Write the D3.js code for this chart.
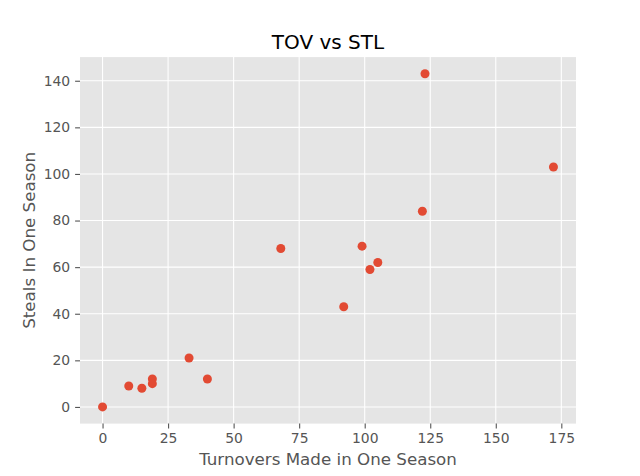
<!DOCTYPE html>
<html><head><meta charset="utf-8">
<script src="https://cdn.jsdelivr.net/npm/d3@7"></script>
<style>body{margin:0;background:#fff}svg{display:block;font-family:"DejaVu Sans",sans-serif}</style>
</head><body>
<svg id="c" width="640" height="476"></svg>
<script>
const turnovers = [0, 10, 15, 19, 19, 33, 40, 68, 92, 99, 102, 105, 122, 123, 172];
const steals    = [0, 9, 8, 12, 10, 21, 12, 68, 43, 69, 59, 62, 84, 143, 103];
const xTicks = [0, 25, 50, 75, 100, 125, 150, 175];
const yTicks = [0, 20, 40, 60, 80, 100, 120, 140];
const title = "TOV vs STL";
const xLabel = "Turnovers Made in One Season";
const yLabel = "Steals In One Season";

const svg = d3.select("#c");
const L = 80, R = 576, T = 57.1, B = 423.6;
const xr = d3.extent(turnovers), yr = d3.extent(steals);
const xm = (xr[1]-xr[0])*0.05, ym = (yr[1]-yr[0])*0.05;
const x = d3.scaleLinear().domain([xr[0]-xm, xr[1]+xm]).range([L, R]);
const y = d3.scaleLinear().domain([yr[0]-ym, yr[1]+ym]).range([B, T]);

svg.append("rect").attr("x", L).attr("y", T).attr("width", R-L).attr("height", B-T).attr("fill", "#E5E5E5");

const g = svg.append("g");
g.selectAll(".gx").data(xTicks).enter().append("line")
  .attr("x1", d => x(d)).attr("x2", d => x(d)).attr("y1", T).attr("y2", B)
  .attr("stroke", "#fff").attr("stroke-width", 1.1);
g.selectAll(".gy").data(yTicks).enter().append("line")
  .attr("y1", d => y(d)).attr("y2", d => y(d)).attr("x1", L).attr("x2", R)
  .attr("stroke", "#fff").attr("stroke-width", 1.1);

const xAxis = d3.axisBottom(x).tickValues(xTicks).tickSize(4.9).tickPadding(4.9).tickFormat(d3.format("d"));
const yAxis = d3.axisLeft(y).tickValues(yTicks).tickSize(4.9).tickPadding(4.9).tickFormat(d3.format("d"));
const ax = svg.append("g").attr("transform", `translate(0,${B})`).call(xAxis);
const ay = svg.append("g").attr("transform", `translate(${L},0)`).call(yAxis);
[ax, ay].forEach(a => {
  a.select(".domain").remove();
  a.selectAll(".tick line").attr("stroke", "#555").attr("stroke-width", 1.1);
  a.selectAll(".tick text").attr("fill", "#555").style("font-size", "13.9px").style("font-family", "DejaVu Sans");
});

svg.append("g").selectAll("circle").data(turnovers).enter().append("circle")
  .attr("cx", d => x(d)).attr("cy", (d, i) => y(steals[i])).attr("r", 4.5)
  .attr("fill", "#E24A33");

svg.append("text").attr("x", (L+R)/2).attr("y", 48.5).attr("text-anchor", "middle")
  .style("font-size", "20px").attr("fill", "#000").text(title);
svg.append("text").attr("x", (L+R)/2).attr("y", 465).attr("text-anchor", "middle")
  .style("font-size", "16.7px").attr("fill", "#555").text(xLabel);
svg.append("text").attr("transform", `translate(35,${(T+B)/2}) rotate(-90)`).attr("text-anchor", "middle")
  .style("font-size", "16.7px").attr("fill", "#555").text(yLabel);
</script>
</body></html>
